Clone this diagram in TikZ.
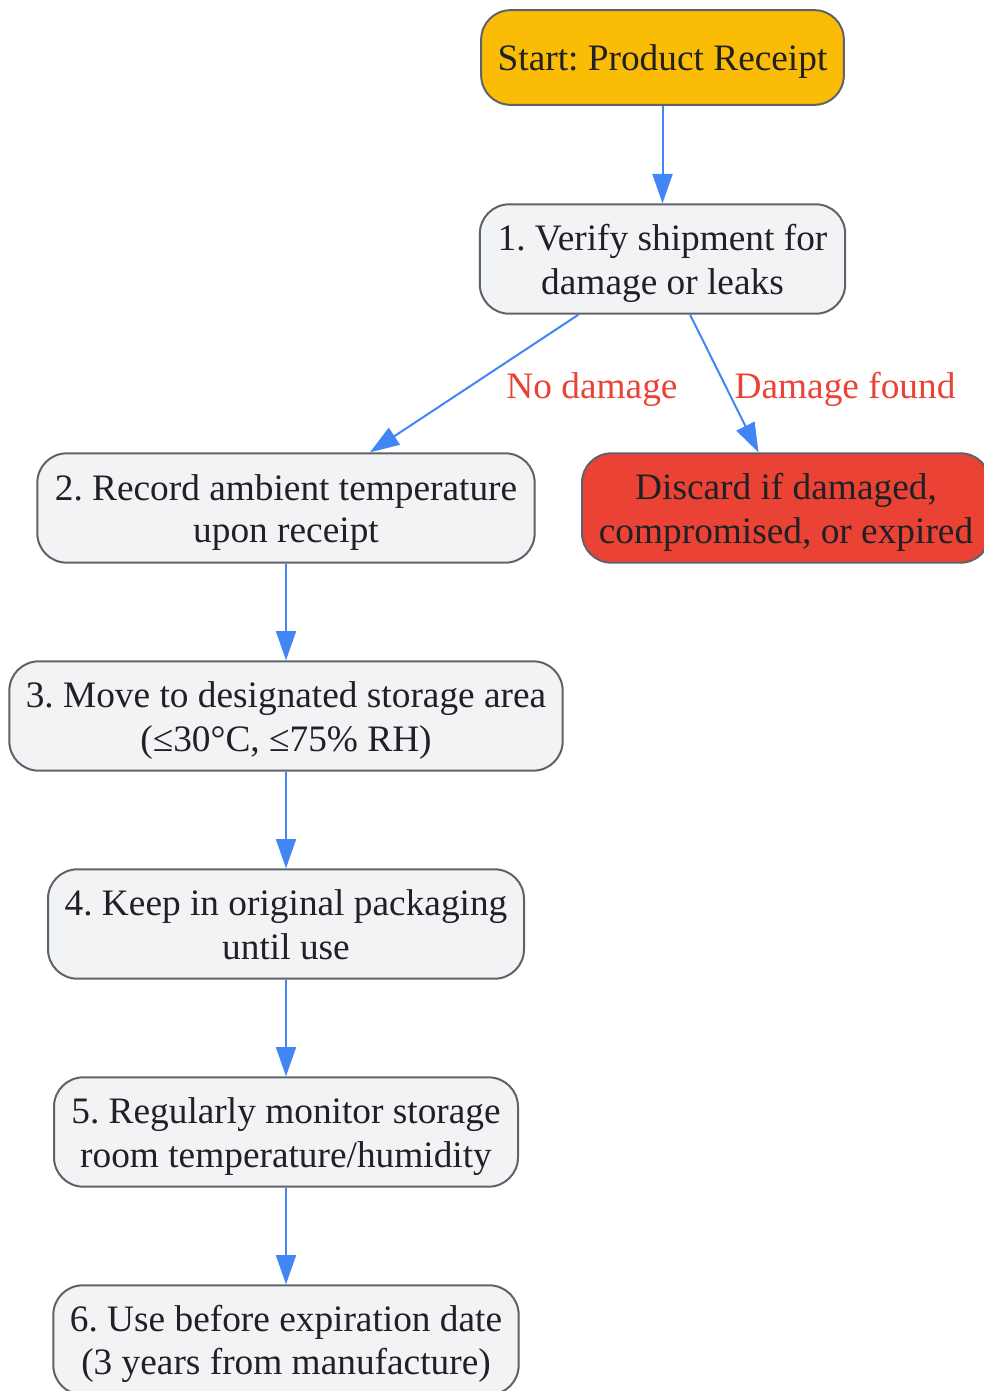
\documentclass[tikz,border=0pt]{standalone}
\usepackage{fontspec}
\setmainfont{Liberation Serif}
\usetikzlibrary{arrows.meta}
\definecolor{amber}{HTML}{FBBC05}
\definecolor{boxgray}{HTML}{F1F3F5}
\definecolor{edgegray}{HTML}{5F6368}
\definecolor{gblue}{HTML}{4285F4}
\definecolor{gred}{HTML}{EA4335}
\definecolor{txt}{HTML}{202124}
\newcommand\ls{\rule[-6pt]{0pt}{32pt}}
\frenchspacing
\begin{document}
\begin{tikzpicture}[x=0.75pt,y=-0.75pt,
  stepbox/.style={draw=edgegray, line width=1.5pt, fill=boxgray, rounded corners=22pt,
    align=center, text=txt, font=\fontsize{28}{32}\selectfont\frenchspacing, inner sep=0pt, minimum height=82pt},
  startbox/.style={stepbox, fill=amber},
  discardbox/.style={stepbox, fill=gred},
  flow/.style={draw=gblue, line width=1.5pt, -{Triangle[length=22pt,width=15pt]}},
  elabel/.style={text=gred, font=\fontsize{28}{32}\selectfont, inner sep=0pt}]
\useasboundingbox (0,0) rectangle (984,1391);
\node[startbox, minimum width=272pt, minimum height=71pt] (s) at (662.5,57.5) {\ls Start: Product Receipt};
\node[stepbox, minimum width=274pt] (n1) at (662.5,259) {\ls 1. Verify shipment for\\\ls damage or leaks};
\node[stepbox, minimum width=373pt] (n2) at (286,508) {\ls 2. Record ambient temperature\\\ls upon receipt};
\node[discardbox, minimum width=306pt] (d) at (786,508) {\ls Discard if damaged,\\\ls compromised, or expired};
\node[stepbox, minimum width=415pt] (n3) at (286,716) {\ls 3. Move to designated storage area\\\ls (≤30°C, ≤75\% RH)};
\node[stepbox, minimum width=357pt] (n4) at (286,924) {\ls 4. Keep in original packaging\\\ls until use};
\node[stepbox, minimum width=348pt] (n5) at (286,1132) {\ls 5. Regularly monitor storage\\\ls room temperature/humidity};
\node[stepbox, minimum width=349pt] (n6) at (286,1340) {\ls 6. Use before expiration date\\\ls (3 years from manufacture)};
\draw[flow] (s) -- (n1);
\draw[flow] (n1) -- (n2);
\draw[flow] (n1) -- (d);
\draw[flow] (n2) -- (n3);
\draw[flow] (n3) -- (n4);
\draw[flow] (n4) -- (n5);
\draw[flow] (n5) -- (n6);
\node[elabel] (l1) at (592,385) {\ls No damage};
\node[elabel] (l2) at (845,385) {\ls Damage found};
\end{tikzpicture}
\end{document}
